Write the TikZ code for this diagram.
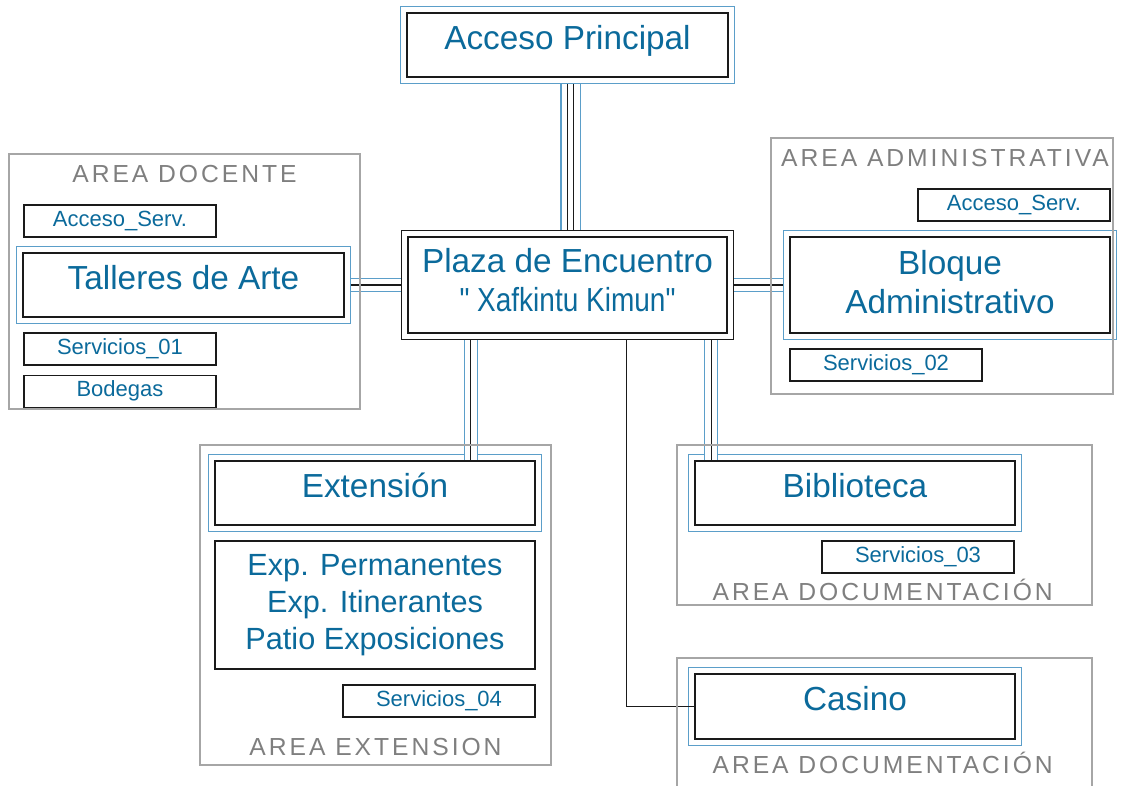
\documentclass[tikz,border=0pt]{standalone}
\usepackage{fontspec}
\setmainfont{Liberation Sans}
\newfontfamily\areafont[LetterSpace=12]{Liberation Sans}
\newfontfamily\quotefont[Ligatures=TeXOff]{Liberation Sans}
\usepackage{graphicx}
\usepackage{tikz}
\usetikzlibrary{positioning,calc,fit}
\definecolor{txtblue}{HTML}{0B6A9B}
\definecolor{frameblue}{HTML}{5B9EC9}
\definecolor{zonegray}{HTML}{A6A6A6}
\definecolor{titlegray}{HTML}{7F7F7F}
\definecolor{ink}{HTML}{1A1A1A}
\tikzset{
  bigbox/.style={draw=ink,line width=0.9pt,text=txtblue,font=\fontsize{25}{30}\selectfont,
    minimum width=240.75pt,minimum height=48pt,inner sep=0pt,text height=18pt,text depth=12pt},
  multibox/.style={draw=ink,line width=0.9pt,text=txtblue,align=center,inner sep=0pt,minimum width=240pt},
  boxtext/.style={text=txtblue,align=center,inner sep=0pt},
  smallbox/.style={draw=ink,line width=0.9pt,text=txtblue,font=\fontsize{16.5}{19}\selectfont,
    minimum width=144pt,minimum height=24pt,inner sep=0pt},
  outerframe/.style={draw=frameblue,line width=0.9pt,inner sep=4.5pt},
  zone/.style={draw=zonegray,line width=0.8pt},
  zonetitle/.style={text=titlegray,font=\areafont\fontsize{18.5}{22}\selectfont,anchor=base,inner sep=0pt},
  conn/.style={draw=ink,line width=0.8pt,
    preaction={draw=frameblue,line width=0.8pt,double=white,double distance=9pt}},
  conn4/.style={draw=ink,line width=0.8pt,double=white,double distance=3.7pt,
    preaction={draw=frameblue,line width=0.8pt,double=white,double distance=13.5pt}},
  wire/.style={draw=ink,line width=0.8pt}
}
\newcommand{\plazaname}{\scalebox{0.84}[1]{\quotefont " Xafkintu Kimun"}}
\begin{document}
\begin{tikzpicture}[x=0.75pt,y=-0.75pt]
 \useasboundingbox (0,0) rectangle (1123,785);
 % central axis
 \node[bigbox] (acc) at (567.5,45) {Acceso Principal};
 \node[outerframe,fit=(acc)] (accF) {};
 \node[multibox,minimum width=239.25pt,minimum height=72pt,
   label={[boxtext,font=\fontsize{25}{29}\selectfont,yshift=3.5pt]center:Plaza de Encuentro\\\plazaname}]
   (plaza) at (567.5,285) {};
 \node[outerframe,draw=ink,fit=(plaza)] (plazaF) {};
 % area docente
 \node[bigbox] (tall) at (183.5,285) {Talleres de Arte};
 \node[outerframe,fit=(tall)] (tallF) {};
 \node[smallbox] (accserv1) at (120,221) {Acceso\_Serv.};
 \node[smallbox] (serv1) at (120,349) {Servicios\_01};
 \node[smallbox,below=6.75pt of serv1] (bodegas) {Bodegas};
 % area administrativa
 \node[multibox,minimum height=72pt,
   label={[boxtext,font=\fontsize{25}{29}\selectfont,yshift=2.25pt]center:Bloque\\Administrativo}]
   (bloque) at (950,285) {};
 \node[outerframe,fit=(bloque)] (bloqueF) {};
 \node[smallbox] (accserv2) at (1014,205) {Acceso\_Serv.};
 \node[smallbox] (serv2) at (886,365) {Servicios\_02};
 % area extension
 \node[bigbox,minimum width=240pt] (ext) at (375,493) {Extensión};
 \node[outerframe,fit=(ext)] (extF) {};
 \node[multibox,minimum height=96pt,font=\fontsize{23}{27.75}\selectfont] (expo) at (375,605)
   {Exp. Permanentes\\Exp. Itinerantes\\Patio Exposiciones};
 \node[smallbox] (serv4) at (439,701) {Servicios\_04};
 % area documentacion
 \node[bigbox,minimum width=240pt] (bib) at (855,493) {Biblioteca};
 \node[outerframe,fit=(bib)] (bibF) {};
 \node[smallbox] (serv3) at (918,557) {Servicios\_03};
 \node[bigbox,minimum width=240pt,minimum height=48.75pt] (casino) at (855,706.5) {Casino};
 \node[outerframe,fit=(casino)] (casinoF) {};
 % titles
 \node[zonetitle] (tDocente) at (184.5,182) {AREA DOCENTE};
 \node[zonetitle] (tAdmin) at (945,166) {AREA ADMINISTRATIVA};
 \node[zonetitle] (tExt) at (375.5,755) {AREA EXTENSION};
 \node[zonetitle] (tDocu1) at (882.7,600) {AREA DOCUMENTACIÓN};
 \node[zonetitle] (tDocu2) at (882.7,773) {AREA DOCUMENTACIÓN};
 % connectors
 \draw[conn4] ([xshift=2.25pt]accF.south) -- ([xshift=2.25pt]plazaF.north);
 \draw[conn] (tallF.east) -- (plazaF.west); \draw[conn] (plazaF.east) -- (bloqueF.west);
 \path ([xshift=52.5pt]plazaF.south west) coordinate (dExt) ([xshift=-17.25pt]plazaF.south east) coordinate (dBib);
 \draw[conn] (dExt) -- (dExt |- ext.north); \draw[conn] (dBib) -- (dBib |- bib.north);
 \draw[wire] ([xshift=43.9pt]plazaF.south) |- (casino.west);
 % zones drawn last so their borders stay on top
 \draw[zone] (9,154) rectangle (360,409);
 \draw[zone] (771,138) rectangle (1113,394);
 \draw[zone] (200,445) rectangle (551,765);
 \draw[zone] (677,445) rectangle (1092,605);
 \draw[zone] (677,790) |- (1092,658) -- (1092,790);
\end{tikzpicture}
\end{document}
